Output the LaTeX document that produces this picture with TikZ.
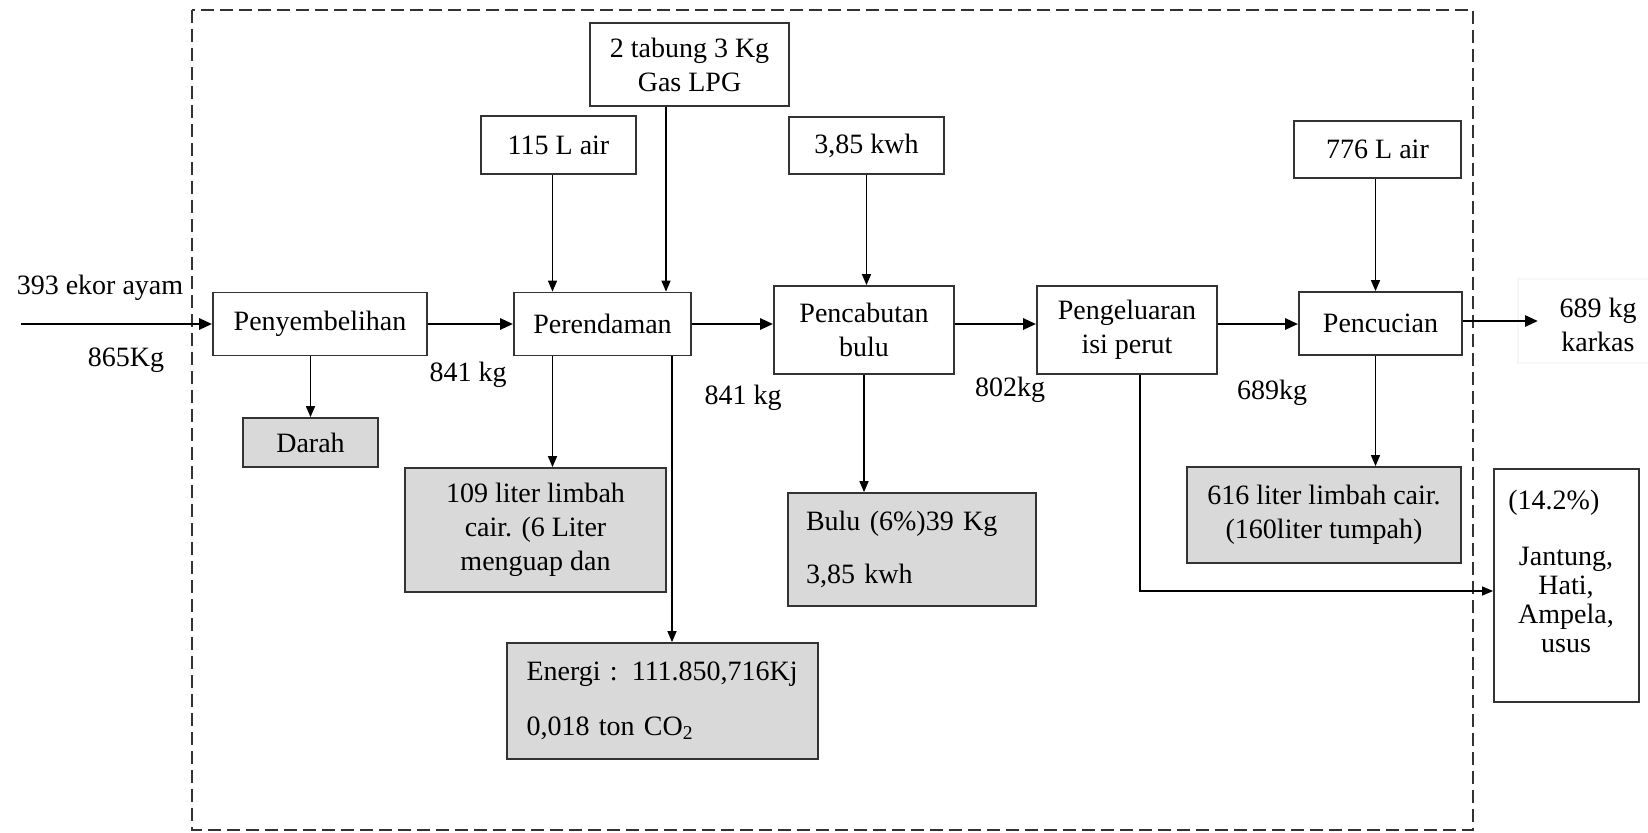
\documentclass[tikz,border=0pt]{standalone}
\usepackage{fontspec}
\setmainfont{Liberation Serif}
\usetikzlibrary{arrows.meta,calc}
\definecolor{boxgray}{HTML}{D9D9D9}
\definecolor{edge}{HTML}{333333}
\begin{document}
\begin{tikzpicture}[x=0.5pt,y=-0.5pt,
  font=\fontsize{14pt}{17pt}\selectfont,
  box/.style={draw=edge, line width=0.9pt, inner sep=2pt, align=center},
  gbox/.style={box, fill=boxgray},
  conn/.style={line width=0.75pt, -{Triangle[length=5.5pt,width=4.5pt]}},
  mainarrow/.style={line width=1.4pt, -{Triangle[length=6.5pt,width=5.5pt]}},
  lbl/.style={inner sep=0pt, align=center}]
\useasboundingbox (0,0) rectangle (1648,832);
% system boundary
\draw[edge, line width=1pt, dash pattern=on 6.5pt off 3pt] (192,10) rectangle (1473,830);
% main process boxes
\node[box, minimum width=107pt, minimum height=31.5pt] (pen) at (320,324) {Penyembelihan};
\node[box, minimum width=88.5pt, minimum height=31.5pt] (per) at (602.5,324) {Perendaman};
\node[box, minimum width=90pt, minimum height=44pt] (cab) at (864,330) {Pencabutan\\bulu};
\node[box, minimum width=90pt, minimum height=44pt] (kel) at (1127,330) {Pengeluaran\\isi perut};
\node[box, minimum width=81.5pt, minimum height=31.5pt] (cuc) at (1380.5,323.5) {Pencucian};
% inputs
\node[box, minimum width=77.5pt, minimum height=29pt] (air1) at (558.5,145) {115 L air};
\node[box, minimum width=99.5pt, minimum height=41.5pt] (gas) at (689.5,64.5) {2 tabung 3 Kg\\Gas LPG};
\node[box, minimum width=77.5pt, minimum height=28.5pt] (kwh) at (866.5,145.5) {3,85 kwh};
\node[box, minimum width=83.5pt, minimum height=28.5pt] (air2) at (1377.5,149.5) {776 L air};
% outputs
\node[gbox, minimum width=67.5pt, minimum height=24.5pt] (darah) at (310.5,442.5) {Darah};
\node[gbox, minimum width=130.5pt, minimum height=62pt] (lim1) at (535.5,530) {109 liter limbah\\cair. (6 Liter\\menguap dan};
\node[gbox, minimum width=155.5pt, minimum height=58pt, text width=136pt, align=left] (en) at (662.5,701) {Energi : 111.850,716Kj\\[10.5pt]0,018 ton CO\textsubscript{2}};
\node[gbox, minimum width=124pt, minimum height=56.5pt, text width=106pt, align=left] (bulu) at (912,549.5) {Bulu (6\%)39 Kg\\[9.5pt]3,85 kwh};
\node[gbox, minimum width=137pt, minimum height=48pt] (lim2) at (1324,515) {616 liter limbah cair.\\(160liter tumpah)};
\node[box, minimum width=72.5pt, minimum height=116.5pt] (org) at (1566.5,585.5) {};
\node[lbl, anchor=west] (pct) at (1508,503) {(14.2\%)};
\node[lbl, font=\fontsize{14pt}{14.5pt}\selectfont] (parts) at (1566,600) {Jantung,\\Hati,\\Ampela,\\usus};
% free ends
\coordinate (in) at (21,324);
\coordinate (out) at (1538,321);
% flow labels
\node[lbl] (l393) at (100,288) {393 ekor ayam};
\node[lbl] (l865) at (126,360) {865Kg};
\node[lbl] (l841a) at (468,375) {841 kg};
\node[lbl] (l841b) at (743,398) {841 kg};
\node[lbl] (l802) at (1010,390) {802kg};
\node[lbl] (l689) at (1272,393) {689kg};
\draw[black!3, line width=0.6pt] (1518,279) rectangle (1660,363);
\node[lbl, font=\fontsize{14pt}{17pt}\selectfont] (kar) at (1598,325) {689 kg\\karkas};
% main flow
\draw[mainarrow] (in) -- (pen.west);
\draw[mainarrow] (pen.east) -- (pen.east -| per.west);
\draw[mainarrow] (per.east) -- (per.east -| cab.west);
\draw[mainarrow] (per.east -| cab.east) -- (per.east -| kel.west);
\draw[mainarrow] (per.east -| kel.east) -- (per.east -| cuc.west);
\draw[mainarrow] (cuc.east |- out) -- (out);
% inputs
\draw[conn] ([xshift=-3pt]air1.south) -- ([xshift=-3pt]air1.south |- per.north);
\draw[conn] ([xshift=-11.75pt]gas.south) -- ([xshift=-11.75pt]gas.south |- per.north);
\draw[conn] (kwh.south) -- (kwh.south |- cab.north);
\draw[conn] ([xshift=-1pt]air2.south) -- ([xshift=-1pt]air2.south |- cuc.north);
% outputs
\draw[conn] (darah.north |- pen.south) -- (darah.north);
\draw[conn] ([xshift=-3pt]air1.south |- per.south) -- ([xshift=-3pt]air1.south |- lim1.north);
\draw[conn] ([xshift=4.75pt]en.north |- per.south) -- ([xshift=4.75pt]en.north);
\draw[conn] (cab.south) -- (cab.south |- bulu.north);
\draw[conn] ([xshift=-2.5pt]cuc.south) -- ([xshift=-2.5pt]cuc.south |- lim2.north);
\draw[conn] ([xshift=6.5pt]kel.south) |- ([yshift=-2.75pt]org.west);
\end{tikzpicture}
\end{document}
